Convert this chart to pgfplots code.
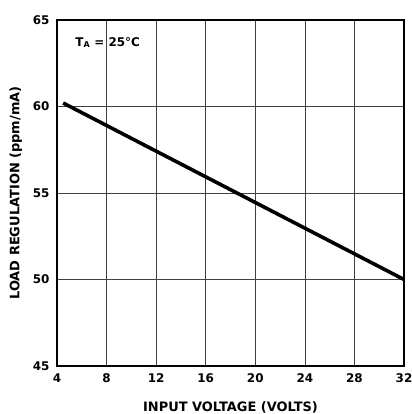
\documentclass[border=0pt]{standalone}
\usepackage{pgfplots}
\pgfplotsset{compat=1.18}
\usepackage{fontspec}
\setmainfont{DejaVu Sans}

\begin{document}
\begin{tikzpicture}
\path[use as bounding box] (-57bp,-48bp) rectangle (355bp,366bp);
\begin{axis}[
    scale only axis,
    width=347bp,
    height=346bp,
    xmin=4, xmax=32,
    ymin=45, ymax=65,
    xtick={4,8,...,32},
    ytick={45,50,...,65},
    grid=major,
    major grid style={draw=black!75, line width=0.6pt},
    axis line style={line width=1.4pt},
    tick style={draw=none},
    ticklabel style={font=\fontsize{12}{13}\selectfont\bfseries},
    xticklabel style={yshift=-4bp},
    yticklabel style={xshift=-4bp},
    /pgf/number format/assume math mode=true,
    xlabel={INPUT VOLTAGE (VOLTS)},
    ylabel={LOAD REGULATION (ppm/mA)},
    label style={font=\fontsize{13}{15}\selectfont\bfseries},
    xlabel style={yshift=-12bp},
    ylabel style={yshift=4bp},
    clip=false,
]
\addplot[black, line width=3.6pt] coordinates {
    (4.5,60.2)
    (32,50.0)
};
\node[anchor=west, font=\fontsize{12}{13}\selectfont\bfseries]
    at (axis cs:5.2,63.7) {T\textsubscript{A} = 25°C};
\end{axis}
\end{tikzpicture}
\end{document}
